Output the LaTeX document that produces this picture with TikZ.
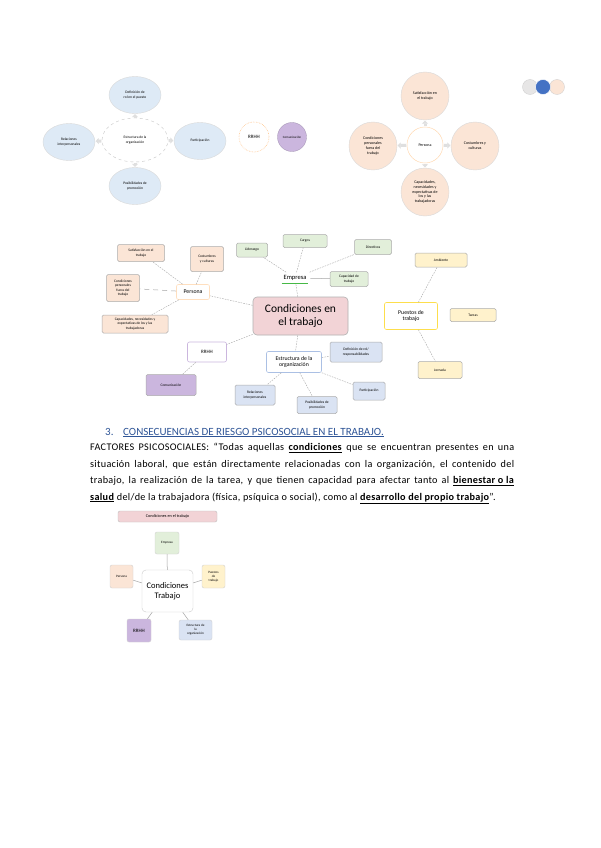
\documentclass[tikz,border=0pt]{standalone}
\usepackage{fontspec}
\setmainfont{Carlito}
\usetikzlibrary{arrows.meta,shapes.geometric}
\definecolor{peach}{HTML}{FBE5D6}
\definecolor{ltgreen}{HTML}{E2EFDA}
\definecolor{ltblue}{HTML}{DEEAF6}
\definecolor{ltblue2}{HTML}{DAE3F3}
\definecolor{ltyellow}{HTML}{FFF2CC}
\definecolor{ltpurple}{HTML}{CBB6DE}
\definecolor{ltpink}{HTML}{F2D3D6}
\definecolor{titleblue}{HTML}{2F5597}
\definecolor{dotblue}{HTML}{4472C4}
\definecolor{dotgray}{HTML}{E7E6E6}
\definecolor{lnk}{HTML}{A6A6A6}
\newcommand{\ul}[1]{\underline{\textbf{#1}}}
\tikzset{
  tinytxt/.style={font=\fontsize{3.6}{4.3}\selectfont, align=center},
  ell/.style={ellipse, draw=gray!30, fill=ltblue, minimum width=52pt, minimum height=37pt, inner sep=0pt, tinytxt},
  circ/.style={circle, draw=gray!30, fill=peach, minimum size=48pt, inner sep=0pt, align=center, font=\fontsize{4}{4.8}\selectfont},
  mbox/.style={rectangle, rounded corners=1.5pt, draw=gray!65, line width=0.5pt, tinytxt, inner sep=1pt},
  pbox/.style={rectangle, rounded corners=2pt, fill=white, line width=0.6pt, align=center, inner sep=1pt, font=\fontsize{5.8}{6.6}\selectfont},
  conn/.style={draw=lnk, line width=0.4pt, dash pattern=on 1.6pt off 1.1pt},
  solidconn/.style={draw=lnk, line width=0.5pt},
  garrow/.style={-{Triangle[width=6pt,length=3pt]}, line width=3pt, draw=gray!25, shorten >=0.5pt, shorten <=0.5pt},
  sbox/.style={rectangle, rounded corners=2pt, draw=gray!35, line width=0.4pt, align=center, inner sep=0.5pt, font=\fontsize{3.3}{3.9}\selectfont}
}
\begin{document}
\begin{tikzpicture}[x=1pt,y=-1pt]
\useasboundingbox[fill=white] (0,0) rectangle (600,848);

% ---------- top-left diagram ----------
\node[ell, fill=white, draw=gray!45, dashed, minimum width=66pt, minimum height=44pt] (tc) at (135,140) {Estructura de la\\organización};
\node[ell] (tt) at (135,95) {Definición de\\rol en el puesto};
\node[ell] (tl) at (69,142) {Relaciones\\interpersonales};
\node[ell] (tr) at (200,141) {Participación};
\node[ell] (tb) at (135,186) {Posibilidades de\\promoción};
\draw[garrow] (tc) -- (tt);
\draw[garrow] (tc) -- (tl);
\draw[garrow] (tc) -- (tr);
\draw[garrow] (tc) -- (tb);
\node[circle, draw=orange!45, densely dotted, line width=0.6pt, fill=white, minimum size=30pt, inner sep=0pt, font=\fontsize{5}{6}\selectfont] (rr1) at (254,137) {RRHH};
\node[circle, draw=ltpurple!80!black, line width=0.3pt, fill=ltpurple, minimum size=29pt, inner sep=0pt, font=\fontsize{3.2}{4}\selectfont] (com1) at (292,137) {Comunicación};

% ---------- top-right diagram ----------
\node[circle, draw=orange!30, line width=0.5pt, fill=white, minimum size=36pt, inner sep=0pt, font=\fontsize{4}{4.8}\selectfont] (pc) at (425,145) {Persona};
\node[circ] (pt) at (425,96) {Satisfacción en\\el trabajo};
\node[circ] (pl) at (373,146) {Condiciones\\personales\\fuera del\\trabajo};
\node[circ] (pr) at (475,146) {Costumbres y\\culturas};
\node[circ] (pb) at (425,192) {Capacidades,\\necesidades y\\expectativas de\\los y las\\trabajadoras};
\draw[garrow] (pc) -- (pt);
\draw[garrow] (pc) -- (pl);
\draw[garrow] (pc) -- (pr);
\draw[garrow] (pc) -- (pb);
\node[circle, draw=gray!40, line width=0.3pt, fill=dotgray, minimum size=15pt, inner sep=0pt] (d1) at (530,87) {};
\node[circle, draw=gray!40, line width=0.3pt, fill=peach, minimum size=15pt, inner sep=0pt] (d3) at (557,87) {};
\node[circle, draw=white, line width=0.4pt, fill=dotblue, minimum size=15pt, inner sep=0pt] (d2) at (543,87) {};

% ---------- middle mind map ----------
\node[rectangle, rounded corners=4pt, draw=gray!60, line width=0.6pt, fill=ltpink, minimum width=95pt, minimum height=38pt, align=center, font=\fontsize{11.5}{13.5}\selectfont] (cet) at (300.5,316) {Condiciones en\\el trabajo};
% Empresa
\node[pbox, draw=none, minimum width=30pt, minimum height=11pt, font=\fontsize{6.5}{7}\selectfont] (emp) at (295,278) {Empresa};
\draw[draw=green!45!gray, line width=0.9pt] ([xshift=2pt]emp.south west) -- ([xshift=-2pt]emp.south east);
\node[mbox, fill=ltgreen, minimum width=31pt, minimum height=14pt] (lid) at (252,250) {Liderazgo};
\node[mbox, fill=ltgreen, minimum width=44pt, minimum height=13pt] (car) at (305,241) {Cargos};
\node[mbox, fill=ltgreen, minimum width=37pt, minimum height=15pt] (dir) at (373,247) {Directivos};
\node[mbox, fill=ltgreen, minimum width=38pt, minimum height=15pt] (cap) at (349,279) {Capacidad de\\trabajo};
% Persona
\node[pbox, draw=orange!25, minimum width=33pt, minimum height=15pt] (per) at (193,292) {Persona};
\node[mbox, fill=peach, minimum width=47pt, minimum height=17pt] (sat) at (141,253) {Satisfacción en el\\trabajo};
\node[mbox, fill=peach, minimum width=33pt, minimum height=25pt] (cos) at (207,259) {Costumbres\\y culturas};
\node[mbox, fill=peach, minimum width=33pt, minimum height=27pt] (cpf) at (123,288) {Condiciones\\personales\\fuera del\\trabajo};
\node[mbox, fill=peach, minimum width=66pt, minimum height=18pt] (cne) at (135,324) {Capacidades, necesidades y\\expectativas de los y las\\trabajadoras};
% RRHH
\node[pbox, draw=ltpurple, minimum width=39pt, minimum height=20pt, font=\fontsize{5}{6}\selectfont] (rrm) at (207,352) {RRHH};
\node[mbox, fill=ltpurple, minimum width=50pt, minimum height=21pt] (comm) at (171,385) {Comunicación};
% Estructura
\node[pbox, draw=dotblue!45, minimum width=55pt, minimum height=21pt] (est) at (294,362) {Estructura de la\\organización};
\node[mbox, fill=ltblue2, minimum width=52pt, minimum height=20pt] (def) at (356,352) {Definición de rol/\\responsabilidades};
\node[mbox, fill=ltblue2, minimum width=32pt, minimum height=18pt] (par) at (369,391) {Participación};
\node[mbox, fill=ltblue2, minimum width=40pt, minimum height=17pt] (pos) at (317,405) {Posibilidades de\\promoción};
\node[mbox, fill=ltblue2, minimum width=40pt, minimum height=20pt] (rel) at (255,395) {Relaciones\\interpersonales};
% Puestos
\node[pbox, draw=yellow!70!orange!70, minimum width=53pt, minimum height=27pt] (pue) at (411,316) {Puestos de\\trabajo};
\node[mbox, fill=ltyellow, minimum width=52pt, minimum height=14pt] (amb) at (441,260) {Ambiente};
\node[mbox, fill=ltyellow, minimum width=46pt, minimum height=13pt] (tar) at (473,315) {Tareas};
\node[mbox, fill=ltyellow, minimum width=44pt, minimum height=17pt] (jor) at (440,370) {Jornada};
% links
\draw[conn] (cet) -- (emp);
\draw[conn] (cet) -- (per);
\draw[conn] (cet) -- (rrm);
\draw[conn] (cet) -- (est);
\draw[conn] (emp) -- (lid);
\draw[conn] (emp) -- (car);
\draw[conn] (emp) -- (dir);
\draw[solidconn] (emp) -- (cap);
\draw[conn] (per) -- (sat);
\draw[conn] (per) -- (cos);
\draw[draw=lnk, line width=0.5pt, dash pattern=on 5pt off 4pt] (per) -- (cpf);
\draw[conn] (per) -- (cne);
\draw[conn] (rrm) -- (comm);
\draw[conn] (est) -- (def);
\draw[conn] (est) -- (par);
\draw[conn] (est) -- (pos);
\draw[conn] (est) -- (rel);
\draw[conn] (pue) -- (amb);
\draw[conn] (pue) -- (jor);

% ---------- text ----------
\node[anchor=base west, inner sep=0pt, font=\fontsize{11}{13}\selectfont, text=titleblue] (num) at (105,435) {3.};
\node[anchor=base west, inner sep=0pt, font=\fontsize{11}{13}\selectfont, text=titleblue] (ttl) at (123,435) {\underline{CONSECUENCIAS DE RIESGO PSICOSOCIAL EN EL TRABAJO.}};
\node[anchor=north west, inner sep=0pt, font=\fontsize{10.2}{16.5}\selectfont\addfontfeature{LetterSpace=3}] (para) at (90,443) {\parbox{424pt}{%
\makebox[424pt][s]{FACTORES PSICOSOCIALES: “Todas aquellas \ul{condiciones} que se encuentran presentes en una}\\
\makebox[424pt][s]{situación laboral, que están directamente relacionadas con la organización, el contenido del}\\
\makebox[424pt][s]{trabajo, la realización de la tarea, y que tienen capacidad para afectar tanto al \ul{bienestar o la}}\\
\ul{salud} del/de la trabajadora (física, psíquica o social), como al \ul{desarrollo del propio trabajo}”.}};

% ---------- bottom diagram ----------
\node[sbox, fill=ltpink, draw=gray!50, minimum width=99pt, minimum height=11pt, font=\fontsize{4.2}{5}\selectfont] (btt) at (167.5,516.5) {Condiciones en el trabajo};
\node[sbox, fill=white, draw=gray!40, rounded corners=4pt, minimum width=51pt, minimum height=42pt, font=\fontsize{8.5}{10}\selectfont] (bc) at (167.5,591) {Condiciones\\Trabajo};
\node[sbox, fill=ltgreen, minimum width=24pt, minimum height=22pt] (be) at (167,543) {Empresa};
\node[sbox, fill=peach, minimum width=23pt, minimum height=23pt] (bp) at (121.5,576.5) {Persona};
\node[sbox, fill=ltyellow, minimum width=23pt, minimum height=23pt] (bpt) at (213.5,576.5) {Puestos\\de\\trabajo};
\node[sbox, fill=ltpurple, minimum width=24pt, minimum height=23pt, font=\fontsize{5}{6}\selectfont] (br) at (139,630.5) {RRHH};
\node[sbox, fill=ltblue2, minimum width=33pt, minimum height=20pt] (bs) at (195.5,630) {Estructura de\\la\\organización};
\draw[solidconn] (bc) -- (be);
\draw[solidconn] (bc) -- (bp);
\draw[solidconn] (bc) -- (bpt);
\draw[solidconn] (bc) -- (br);
\draw[solidconn] (bc) -- (bs);
\end{tikzpicture}
\end{document}
